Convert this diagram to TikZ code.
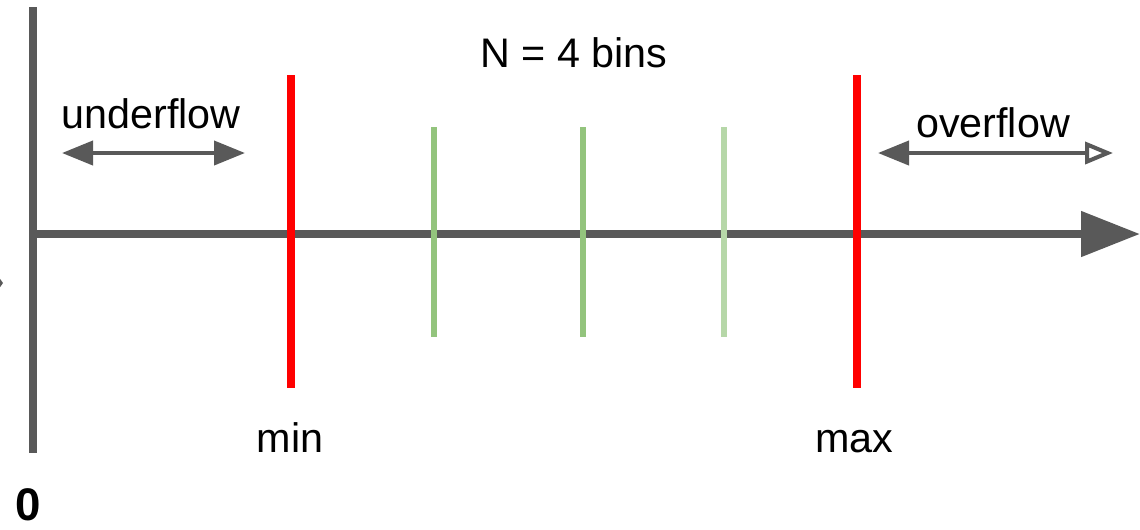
\documentclass[tikz,border=0pt]{standalone}
\usepackage{fontspec}
\setmainfont{Liberation Sans}
\usepackage{tikz}
\usetikzlibrary{positioning, arrows.meta}
\definecolor{axisgray}{HTML}{595959}
\definecolor{limitred}{HTML}{FF0000}
\definecolor{bingreen}{HTML}{93C47D}
\definecolor{binlight}{HTML}{B6D7A8}

\tikzset{
  axisline/.style={draw=axisgray, line width=4.6pt},
  limitline/.style={draw=limitred, line width=4.6pt},
  binline/.style={line width=3.4pt},
  flowarrow/.style={draw=axisgray, line width=2.3pt},
  lbl/.style={inner sep=0pt, anchor=base, font=\fontsize{23.5}{28}\selectfont}
}

\begin{document}
\begin{tikzpicture}[x=0.02cm, y=-0.02cm]
    \useasboundingbox (0,0) rectangle (1140,529);

    % axes
    \coordinate (ytop) at (33,7);
    \coordinate (ybot) at (33,453);
    \coordinate (xorg) at (33,234);
    \coordinate (xend) at (1140,234);
    \draw[axisline] (ytop) -- (ybot);
    \draw[axisline, -{Triangle[length=59*0.02cm, width=44*0.02cm]}] (xorg) -- (xend);

    % cut-off tip at the left edge
    \fill[axisgray] (-2,276) -- (3,283) -- (-2,290) -- cycle;

    % min / max limits
    \coordinate (mintop) at (291,75);
    \coordinate (minbot) at (291,388);
    \coordinate (maxtop) at (857,75);
    \coordinate (maxbot) at (857,388);
    \draw[limitline] (mintop) -- (minbot);
    \draw[limitline] (maxtop) -- (maxbot);

    % bin edges
    \foreach \bx/\bc [count=\i] in {434/bingreen, 583/bingreen, 724/binlight} {
      \coordinate (bin\i top) at (\bx,127);
      \coordinate (bin\i bot) at (\bx,337);
      \draw[binline, draw=\bc] (bin\i top) -- (bin\i bot);
    }

    % labels
    \node[lbl] (nbins) at (574,67) {N = 4 bins};
    \node[lbl] (under) at (151,128) {underflow};
    \node[lbl] (over) at (993,137) {overflow};
    \node[lbl] (minlbl) at (290,452) {min};
    \node[lbl] (maxlbl) at (854,452) {max};
    \node[lbl, font=\fontsize{26}{30}\selectfont\bfseries] (zero) at (28,520) {0};

    % under / overflow ranges
    \coordinate (ul) at (62,153);
    \coordinate (ur) at (245,153);
    \coordinate (ol) at (878,153);
    \coordinate (or) at (1113,153);
    \draw[flowarrow, {Triangle[length=31*0.02cm, width=24*0.02cm]}-{Triangle[length=31*0.02cm, width=24*0.02cm]}] (ul) -- (ur);
    \draw[flowarrow, {Triangle[length=31*0.02cm, width=24*0.02cm]}-{Triangle[open, fill=white, length=28*0.02cm, width=22*0.02cm]}] (ol) -- (or);
  \end{tikzpicture}
\end{document}
